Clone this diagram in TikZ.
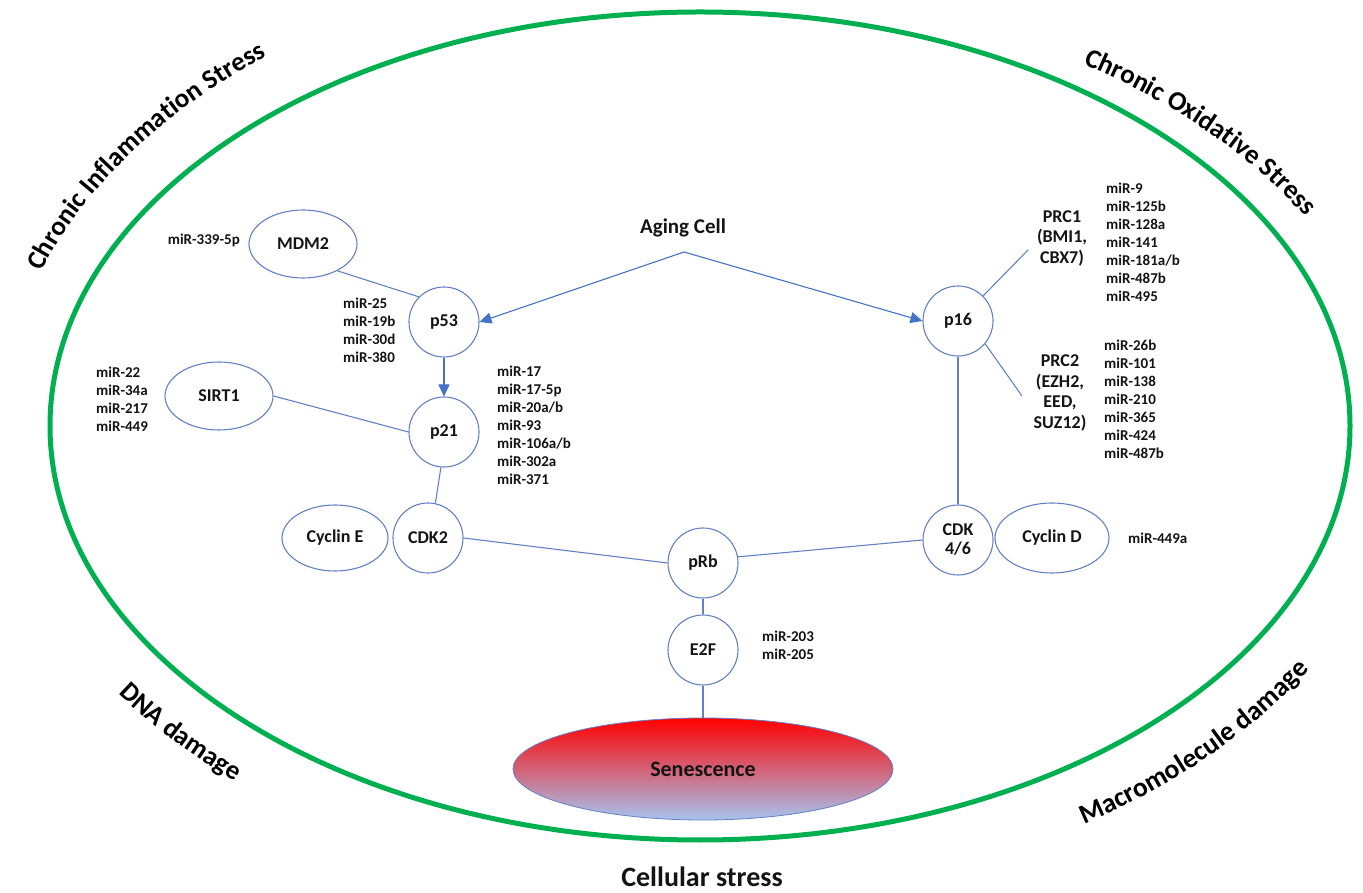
\documentclass[tikz,border=0pt]{standalone}
\usepackage{fontspec}
\setmainfont{Carlito}
\usetikzlibrary{arrows.meta,decorations.text,shapes.geometric}
\definecolor{grn}{RGB}{0,176,80}
\definecolor{edgec}{RGB}{100,128,196}
\definecolor{arrc}{RGB}{68,114,196}
\definecolor{senbot}{RGB}{166,196,238}
\definecolor{senmid}{RGB}{200,148,182}
\definecolor{txt}{RGB}{20,20,20}
\begin{document}
\begin{tikzpicture}[x=1pt,y=1pt,
  every node/.style={text=txt},
  lbl/.style={font=\fontsize{18}{20.5}\selectfont\bfseries, align=center, inner sep=0pt},
  circ/.style={circle, draw=edgec, line width=1.1pt, minimum size=70pt, inner sep=0pt, font=\fontsize{18}{21}\selectfont\bfseries, align=center},
  ell/.style={ellipse, draw=edgec, line width=1.1pt, inner sep=0pt, font=\fontsize{18}{21}\selectfont\bfseries},
  mir/.style={font=\fontsize{15}{18}\selectfont\bfseries, align=left, inner sep=0pt},
  conn/.style={draw=edgec, line width=1.1pt},
  arrowc/.style={conn, -{Triangle[length=12pt,width=11pt,fill=arrc]}, arrc},
  outer/.style={font=\fontsize{28}{30}\selectfont\bfseries}
]
\useasboundingbox (0,0) rectangle (1363,892);

% big green ellipse
\draw[grn, line width=5pt] (700,466) ellipse [x radius=650, y radius=414];

% outer labels (curved)
\path[decorate, decoration={text along path, text align=center,
  text={|\fontsize{27}{30}\selectfont\bfseries|Chronic Inflammation Stress}}]
  ({700+697*cos(164)},{466+472*sin(164)}) arc[start angle=164, end angle=126, x radius=697, y radius=472];
\path[decorate, decoration={text along path, text align=center,
  text={|\fontsize{27}{30}\selectfont\bfseries|Chronic Oxidative Stress}}]
  ({700+690*cos(60)},{466+435*sin(60)}) arc[start angle=60, end angle=24, x radius=690, y radius=435];
\path[decorate, decoration={text along path, text align=center,
  text={|\fontsize{27}{30}\selectfont\bfseries|DNA damage}}]
  ({700+707*cos(211.6)},{466+471*sin(211.6)}) arc[start angle=211.6, end angle=231.6, x radius=707, y radius=471];
\path[decorate, decoration={text along path, text align=center,
  text={|\fontsize{27.5}{30}\selectfont\bfseries|Macromolecule damage}}]
  ({700+710*cos(300.2)},{466+474*sin(300.2)}) arc[start angle=300.2, end angle=332.2, x radius=710, y radius=474];
\node[outer] (cell) at (702,15) {Cellular stress};

% nodes
\node[font=\fontsize{21}{24}\selectfont\bfseries] (aging) at (683,664) {Aging Cell};
\coordinate (ag) at (684,640);

\node[ell, minimum width=108pt, minimum height=68pt] (mdm2) at (303,648) {MDM2};
\node[mir, anchor=east] (m339) at (240,652) {miR-339-5p};
\node[circ] (p53) at (444,570) {p53};
\node[circ] (p21) at (444,460) {p21};
\node[ell, minimum width=108pt, minimum height=68pt] (sirt1) at (219,496) {SIRT1};
\node[mir, anchor=west] (msirt) at (96,493) {miR-22\\miR-34a\\miR-217\\miR-449};
\node[mir, anchor=west] (mp53) at (343,562) {miR-25\\miR-19b\\miR-30d\\miR-380};
\node[mir, anchor=west] (mp21) at (497,467) {miR-17\\miR-17-5p\\miR-20a/b\\miR-93\\miR-106a/b\\miR-302a\\miR-371};

\node[ell, minimum width=106pt, minimum height=66pt] (cyce) at (335,354) {Cyclin E};
\node[circ] (cdk2) at (428,354) {CDK2};
\node[circ] (prb) at (703,329) {pRb};
\node[circ] (e2f) at (703,242) {E2F};
\node[mir, anchor=west] (m203) at (762,247) {miR-203\\miR-205};
\node[ellipse, draw=edgec, line width=0.8pt, minimum width=380pt, minimum height=102pt,
  top color=red, middle color=senmid, bottom color=senbot, inner sep=0pt,
  font=\fontsize{22}{24}\selectfont\bfseries] (sen) at (703,123) {Senescence};

\node[circ] (cdk46) at (958,352) {CDK\\[-2pt]4/6};
\node[ell, minimum width=114pt, minimum height=70pt] (cycd) at (1052,354) {Cyclin D};
\node[mir, anchor=west] (m449) at (1128,354) {miR-449a};

\node[circ] (p16) at (958,571) {p16};
\node[lbl] (prc1) at (1062,654) {PRC1\\(BMI1,\\CBX7)};
\node[lbl] (prc2) at (1060,499) {PRC2\\(EZH2,\\EED,\\SUZ12)};
\node[mir, anchor=west] (mprc1) at (1106,649.5) {miR-9\\miR-125b\\miR-128a\\miR-141\\miR-181a/b\\miR-487b\\miR-495};
\node[mir, anchor=west] (mprc2) at (1104,493) {miR-26b\\miR-101\\miR-138\\miR-210\\miR-365\\miR-424\\miR-487b};
\coordinate (c1) at (1028,642);
\coordinate (c2) at (1022,496);

% connectors
\draw[arrowc] (ag) -- (p53.east);
\draw[arrowc] (ag) -- (p16.west);
\draw[arrowc] (p53.south) -- (p21.north);
\draw[conn] (mdm2.-38) -- (p53.135);
\draw[conn] (sirt1.east) -- (p21.west);
\draw[conn] (p21.-95) -- (cdk2.78);
\draw[conn] (cdk2.east) -- (prb.west);
\draw[conn] (cdk46.west) -- (prb.10);
\draw[conn] (prb.south) -- (e2f.north);
\draw[conn] (e2f.south) -- (sen.north);
\draw[conn] (p16.south) -- (cdk46.north);
\draw[conn] (p16.45) -- (c1);
\draw[conn] (p16.-40) -- (c2);
\end{tikzpicture}
\end{document}
